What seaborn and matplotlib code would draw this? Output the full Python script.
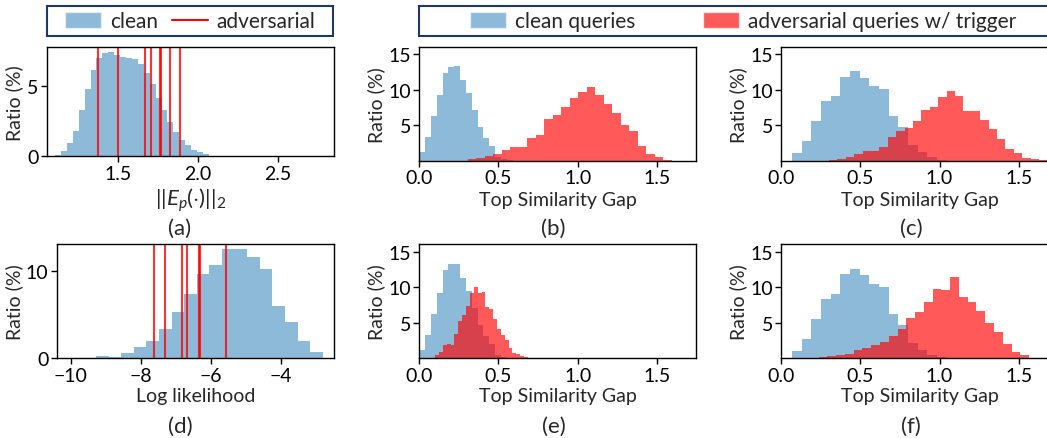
import numpy as np
import pandas as pd
import matplotlib
matplotlib.use("Agg")
import matplotlib.pyplot as plt
from matplotlib.patches import Patch, Rectangle
from matplotlib.lines import Line2D
import seaborn as sns

# ---- data (heights in %) ----
# (a) L2 norm of prompt embedding, clean histogram + adversarial samples
norm_clean = [0.07, 0.38, 0.95, 1.79, 3.31, 4.81, 6.12, 7.02, 7.38, 7.40, 7.24, 7.07, 7.02,
              6.90, 6.55, 5.95, 5.16, 4.16, 3.33, 2.45, 1.71, 1.19, 0.81, 0.45, 0.31, 0.17]
norm_start, norm_width = 1.106, 0.037
norm_adv = [1.377, 1.502, 1.667, 1.708, 1.762, 1.769, 1.823, 1.887]

# (d) log likelihood
ll_clean = [0.03, 0.03, 0.03, 0.30, 0.19, 0.63, 1.31, 1.99, 3.36, 5.26, 7.38, 9.62, 10.65,
            12.40, 12.40, 11.56, 10.16, 5.98, 4.16, 1.99, 0.74]
ll_start, ll_width = -10.363, 0.3605
ll_adv = [-7.611, -7.296, -6.810, -6.684, -6.332, -6.303, -5.551]

# top similarity gap, clean queries (same in b/e and in c/f)
clean_be = [1.23, 3.29, 6.30, 9.25, 12.35, 13.20, 13.30, 11.30, 9.50, 7.14, 4.75, 3.20,
            2.07, 0.50, 0.20, 0.05]
clean_be_start, clean_be_width = 0.0, 0.0368
clean_cf = [1.08, 2.73, 5.59, 8.37, 9.07, 11.79, 12.63, 11.65, 10.52, 10.05, 6.30, 4.75,
            2.21, 1.23, 0.52, 0.14]
clean_cf_start, clean_cf_width = 0.0676, 0.0611

# adversarial queries w/ trigger
adv_b = [0.20, 0.35, 0.65, 0.93, 1.50, 1.92, 1.92, 3.20, 3.60, 5.90, 6.40, 7.50, 8.83,
         9.68, 10.38, 9.30, 7.99, 6.72, 5.07, 4.18, 2.07, 0.94, 0.52, 0.10]
adv_b_start, adv_b_width = 0.306, 0.0537
adv_c = [0.10, 0.23, 0.52, 0.94, 1.36, 1.36, 1.92, 3.34, 4.18, 4.60, 5.59, 7.14, 7.60,
         8.97, 9.82, 9.15, 7.00, 7.00, 5.78, 4.46, 3.05, 1.64, 1.08, 0.38, 0.23, 0.10]
adv_c_start, adv_c_width = 0.301, 0.0531
adv_e = [0.10, 0.47, 0.94, 1.90, 2.10, 1.90, 3.48, 5.26, 6.10, 7.42, 9.25, 10.10, 9.16,
         9.40, 7.20, 6.96, 5.60, 4.14, 3.29, 2.54, 1.50, 0.80, 0.66, 0.33, 0.19, 0.09, 0.05]
adv_e_start, adv_e_width = 0.0758, 0.0244
adv_f = [0.05, 0.05, 0.05, 0.19, 0.33, 0.47, 0.66, 1.17, 1.46, 1.88, 2.30, 3.15, 4.14,
         5.73, 6.48, 7.93, 9.81, 9.67, 11.50, 8.69, 7.98, 6.71, 4.93, 3.66, 2.07, 0.94, 0.52]
adv_f_start, adv_f_width = 0.0695, 0.0554

BLUE = "#1f77b4"
RED = "red"
FONT = ["Lato", "DejaVu Sans"]
W, H = 1047, 439

sns.set_style("ticks")
plt.rcParams["font.family"] = FONT
plt.rcParams["mathtext.fontset"] = "custom"
plt.rcParams["mathtext.rm"] = "Lato"
plt.rcParams["mathtext.it"] = "Lato:italic"
plt.rcParams["axes.edgecolor"] = "black"
plt.rcParams["axes.linewidth"] = 1.0
plt.rcParams["xtick.color"] = "black"
plt.rcParams["ytick.color"] = "black"


def hist(ax, start, width, heights, color, alpha):
    n = len(heights)
    centers = start + width * (np.arange(n) + 0.5)
    df = pd.DataFrame({"x": centers, "w": heights})
    sns.histplot(data=df, x="x", weights="w", bins=n, binrange=(start, start + width * n),
                 color=color, alpha=alpha, linewidth=0, ax=ax)


def style(ax, xlim, ylim, xticks, yticks, xlabel, xlab_y, ylab_x, xlab_size=14):
    ax.set_xlim(*xlim)
    ax.set_ylim(*ylim)
    ax.set_xticks(xticks)
    ax.set_yticks(yticks)
    for s in ax.spines.values():
        s.set_visible(True)
        s.set_color("black")
    ax.tick_params(labelsize=14, length=4, width=1, pad=2)
    ax.set_xlabel(xlabel, fontsize=xlab_size)
    ax.set_ylabel("Ratio (%)", fontsize=14)
    ax.xaxis.set_label_coords(0.5, xlab_y)
    ax.yaxis.set_label_coords(ylab_x, 0.5)


fig = plt.figure(figsize=(10.47, 4.39), dpi=100)

ax_a = fig.add_axes([0.0446, 0.6417, 0.2747, 0.2490])
ax_b = fig.add_axes([0.4005, 0.6317, 0.2646, 0.2590])
ax_c = fig.add_axes([0.7462, 0.6317, 0.2646, 0.2590])
ax_d = fig.add_axes([0.0542, 0.1811, 0.2651, 0.2604])
ax_e = fig.add_axes([0.4005, 0.1811, 0.2646, 0.2597])
ax_f = fig.add_axes([0.7462, 0.1811, 0.2646, 0.2597])

# (a)
hist(ax_a, norm_start, norm_width, norm_clean, BLUE, 0.5)
for v in norm_adv:
    ax_a.axvline(v, color=RED, lw=1.5, alpha=0.8)
style(ax_a, (1.054, 2.852), (0, 7.78), [1.5, 2.0, 2.5], [0, 5],
      r"$||E_p(\cdot)||_2$", -0.27, -0.082, xlab_size=16)

# (d)
hist(ax_d, ll_start, ll_width, ll_clean, BLUE, 0.5)
for v in ll_adv:
    ax_d.axvline(v, color=RED, lw=1.5, alpha=0.8)
style(ax_d, (-10.403, -2.461), (0, 13.0), [-10, -8, -6, -4], [0, 10],
      "Log likelihood", -0.25, -0.12)

gap_ticks = [0.0, 0.5, 1.0, 1.5]
for ax, cl, cs, cw, adv, a_s, a_w, ly in [
        (ax_b, clean_be, clean_be_start, clean_be_width, adv_b, adv_b_start, adv_b_width, -0.266),
        (ax_c, clean_cf, clean_cf_start, clean_cf_width, adv_c, adv_c_start, adv_c_width, -0.266),
        (ax_e, clean_be, clean_be_start, clean_be_width, adv_e, adv_e_start, adv_e_width, -0.25),
        (ax_f, clean_cf, clean_cf_start, clean_cf_width, adv_f, adv_f_start, adv_f_width, -0.25)]:
    hist(ax, cs, cw, cl, BLUE, 0.5)
    hist(ax, a_s, a_w, adv, RED, 0.65)
    style(ax, (0, 1.75), (0, 16), gap_ticks, [5, 10, 15],
          "Top Similarity Gap", ly, -0.122)

# panel letters
for lab, x, y in [("(a)", 180, 229), ("(b)", 553, 229), ("(c)", 911, 229),
                  ("(d)", 180, 427), ("(e)", 554, 427), ("(f)", 911, 427)]:
    fig.text(x / W, 1 - y / H, lab, ha="center", va="center", fontsize=16)

# legend frames
for x0, w in [(0.0449, 0.2732), (0.4005, 0.612)]:
    fig.add_artist(Rectangle((x0, 0.915), w, 0.0683, transform=fig.transFigure,
                             facecolor="white", edgecolor="#1f3864", lw=1.5,
                             clip_on=False, zorder=0))

# legend entries, each placed at the handle position of the reference
entries = [
    (Patch(facecolor=BLUE, alpha=0.5), "clean", 65),
    (Line2D([0], [0], color=RED, lw=1.5), "adversarial", 172),
    (Patch(facecolor=BLUE, alpha=0.5), "clean queries", 470),
    (Patch(facecolor=RED, alpha=0.65), "adversarial queries w/ trigger", 703),
]
for handle, label, px in entries:
    fig.legend([handle], [label], loc="center left", bbox_to_anchor=(px / W, 1 - 22.5 / H),
               frameon=False, fontsize=15, handlelength=1.75, handleheight=0.8,
               handletextpad=0.4, borderpad=0, borderaxespad=0)

fig.savefig("out.png", dpi=100)
